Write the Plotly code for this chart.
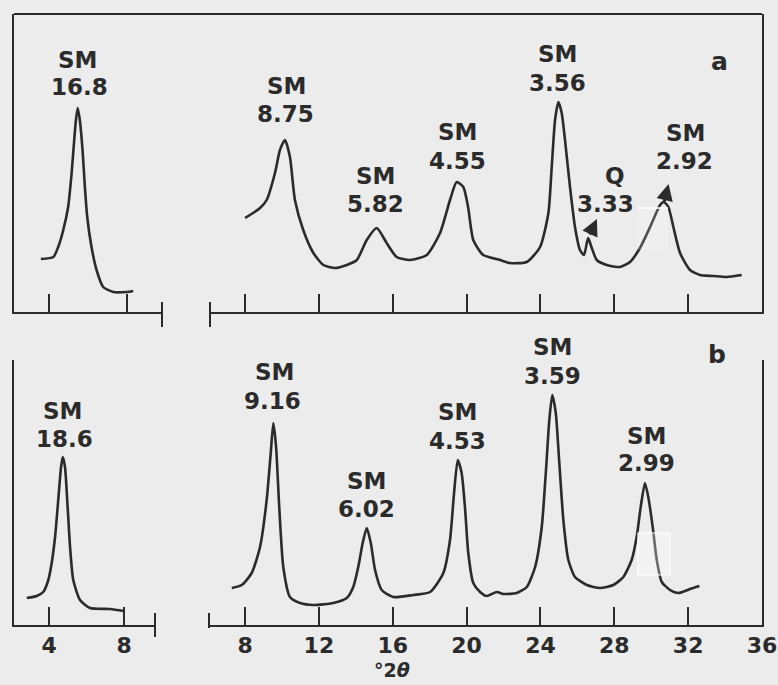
import plotly.graph_objects as go

# ---------------- data ----------------
# panel a, low-angle window (deg 2theta, relative intensity)
a_left_x = [3.58, 4.22, 4.47, 4.73, 4.98, 5.16, 5.28, 5.38, 5.47, 5.58, 5.72, 5.84, 5.96, 6.18, 6.44, 6.78, 7.29, 7.98, 8.32]
a_left_y = [53, 55, 65, 82, 105, 139, 169, 192, 204, 192, 162, 125, 95, 65, 42, 25, 20, 20, 21]

# panel a, main window
a_right_x = [8.00, 8.81, 9.17, 9.62, 9.89, 10.16, 10.43, 10.70, 11.15, 11.70, 12.24, 12.87, 13.51, 14.05,
             14.59, 15.13, 15.67, 16.21, 16.93, 17.84, 18.56, 19.10, 19.46, 19.82, 20.08, 20.36, 20.90,
             21.81, 22.35, 23.26, 23.98, 24.43, 24.61, 24.79, 24.97, 25.15, 25.33, 25.60, 25.87, 26.14,
             26.36, 26.51, 26.59, 26.78, 27.05, 27.59, 28.31, 28.85, 29.39, 29.94, 30.48, 30.69, 30.93,
             31.20, 31.56, 32.10, 32.64, 33.36, 34.09, 34.90]
a_right_y = [94, 104, 112, 139, 162, 172, 155, 112, 82, 59, 47, 44, 47, 52,
             72, 84, 69, 55, 52, 57, 79, 112, 130, 125, 105, 72, 57,
             52, 49, 50, 65, 99, 145, 192, 210, 199, 172, 125, 85, 62,
             57, 69, 74, 64, 52, 47, 45, 50, 64, 85, 107, 110, 105,
             85, 59, 42, 37, 36, 35, 37]

# panel b, low-angle window
b_left_x = [2.81, 3.34, 3.69, 3.96, 4.14, 4.32, 4.49, 4.64, 4.73, 4.85, 4.99, 5.12, 5.29, 5.65, 6.18, 7.25, 7.99]
b_left_y = [27, 29, 33, 45, 62, 88, 125, 158, 168, 158, 118, 78, 45, 25, 17, 16, 14]

# panel b, main window
b_right_x = [7.28, 7.82, 8.36, 8.81, 9.17, 9.39, 9.53, 9.68, 9.85, 10.07, 10.43, 10.98, 11.70, 12.78,
             13.51, 13.86, 14.13, 14.37, 14.59, 14.81, 15.04, 15.40, 16.03, 17.11, 18.02, 18.74, 19.10,
             19.32, 19.52, 19.73, 19.91, 20.09, 20.36, 20.73, 21.09, 21.63, 21.99, 22.71, 23.26, 23.71,
             24.07, 24.30, 24.48, 24.64, 24.83, 25.01, 25.24, 25.51, 25.87, 26.51, 27.23, 27.95, 28.49,
             28.94, 29.21, 29.43, 29.66, 29.84, 30.08, 30.30, 30.57, 31.02, 31.47, 32.10, 32.61]
b_right_y = [37, 40, 52, 78, 125, 172, 202, 178, 118, 58, 28, 22, 20, 22,
             27, 38, 58, 82, 97, 82, 55, 35, 28, 30, 33, 52, 85,
             132, 165, 152, 118, 72, 42, 33, 29, 33, 31, 32, 38, 58,
             98, 155, 205, 230, 212, 165, 105, 65, 48, 40, 37, 40, 48,
             65, 88, 118, 142, 128, 98, 65, 43, 35, 32, 36, 39]

# peak labels: mineral, d-spacing (A), label positions in (2theta, intensity)
a_names = ["SM", "SM", "SM", "SM", "SM", "Q", "SM"]
a_dvals = ["16.8", "8.75", "5.82", "4.55", "3.56", "3.33", "2.92"]
a_name_x = [5.48, 10.22, 15.09, 19.53, 24.92, 28.04, 31.88]
a_name_y = [252, 226, 136, 180, 258, 136, 179]
a_d_x = [5.58, 10.19, 15.04, 19.51, 24.92, 27.50, 31.78]
a_d_y = [225, 198, 108, 151, 229, 108, 151]

b_names = ["SM", "SM", "SM", "SM", "SM", "SM"]
b_dvals = ["18.6", "9.16", "6.02", "4.53", "3.59", "2.99"]
b_name_x = [4.69, 9.57, 14.58, 19.53, 24.65, 29.72]
b_name_y = [214, 253, 144, 213, 278, 189]
b_d_x = [4.80, 9.49, 14.58, 19.51, 24.65, 29.72]
b_d_y = [186, 224, 116, 184, 249, 162]

left_ticks = [4, 8]
right_ticks = [8, 12, 16, 20, 24, 28, 32, 36]
x_title = "°2<i>θ</i>"

# ---------------- styling ----------------
W, H = 778, 685
BG = "#ececec"
INK = "#2b2b2b"
FONT = "DejaVu Sans"


def px(x):
    return x / W


def py(y):
    return 1 - y / H


TOP_DOM = [py(312), py(14)]
BOT_DOM = [py(625), py(360)]
TOP_RANGE = [0, 298]
BOT_RANGE = [0, 265]


def y_to_paper(v, dom, rng):
    return dom[0] + (v - rng[0]) / (rng[1] - rng[0]) * (dom[1] - dom[0])


fig = go.Figure()
line_style = dict(color=INK, width=2.6, shape="spline", smoothing=0.6)
fig.add_trace(go.Scatter(x=a_left_x, y=a_left_y, mode="lines", line=line_style, xaxis="x", yaxis="y", hoverinfo="skip"))
fig.add_trace(go.Scatter(x=a_right_x, y=a_right_y, mode="lines", line=line_style, xaxis="x2", yaxis="y2", hoverinfo="skip"))
fig.add_trace(go.Scatter(x=b_left_x, y=b_left_y, mode="lines", line=line_style, xaxis="x3", yaxis="y3", hoverinfo="skip"))
fig.add_trace(go.Scatter(x=b_right_x, y=b_right_y, mode="lines", line=line_style, xaxis="x4", yaxis="y4", hoverinfo="skip"))

common_x = dict(showline=True, linecolor=INK, linewidth=2, ticks="inside", ticklen=18, tickwidth=2,
                tickcolor=INK, showgrid=False, zeroline=False, fixedrange=True, automargin=False,
                tickfont=dict(family=FONT, size=22, color=INK, weight="bold"))
common_y = dict(showline=True, linecolor=INK, linewidth=2, ticks="", showticklabels=False,
                showgrid=False, zeroline=False, fixedrange=True, automargin=False)

fig.update_layout(
    width=W, height=H, autosize=False, margin=dict(l=0, r=0, t=0, b=0, pad=0),
    paper_bgcolor=BG, plot_bgcolor=BG, showlegend=False,
    xaxis=dict(common_x, domain=[px(14), px(162)], range=[2.2, 9.8], anchor="y",
               tickvals=left_ticks, showticklabels=False),
    yaxis=dict(common_y, domain=TOP_DOM, range=TOP_RANGE, anchor="x"),
    xaxis2=dict(common_x, domain=[px(210), px(762)], range=[6.1, 36.0], anchor="y2",
                tickvals=right_ticks, showticklabels=False),
    yaxis2=dict(common_y, domain=TOP_DOM, range=TOP_RANGE, anchor="x2", side="right"),
    xaxis3=dict(common_x, domain=[px(14), px(155)], range=[2.13, 9.65], anchor="y3",
                tickvals=left_ticks, ticklabelstandoff=0),
    yaxis3=dict(common_y, domain=BOT_DOM, range=BOT_RANGE, anchor="x3"),
    xaxis4=dict(common_x, domain=[px(210), px(762)], range=[6.1, 36.0], anchor="y4",
                tickvals=right_ticks, ticklabelstandoff=0),
    yaxis4=dict(common_y, domain=BOT_DOM, range=BOT_RANGE, anchor="x4", side="right"),
)

shapes = []
lw = dict(color=INK, width=2)
# top border of panel a
shapes.append(dict(type="line", xref="paper", yref="paper", x0=px(14), x1=px(762), y0=py(14), y1=py(14), line=lw))
# axis-break end ticks
for xx, y0, y1 in [(162, 302, 327), (210, 302, 327), (155, 613, 637), (209, 613, 628)]:
    shapes.append(dict(type="line", xref="paper", yref="paper", x0=px(xx), x1=px(xx), y0=py(y0), y1=py(y1), line=lw))
# scan retouch marks
shapes.append(dict(type="rect", xref="paper", yref="paper", x0=px(638), x1=px(668), y0=py(208), y1=py(250),
                   line=dict(width=0), fillcolor="rgba(255,255,255,0.18)", layer="above"))
shapes.append(dict(type="line", xref="paper", yref="paper", x0=px(638), x1=px(668), y0=py(208), y1=py(208),
                   line=dict(color="white", width=1.5), layer="above"))
shapes.append(dict(type="rect", xref="paper", yref="paper", x0=px(638), x1=px(670), y0=py(533), y1=py(575),
                   line=dict(color="white", width=1.2), fillcolor="rgba(255,255,255,0.3)", layer="above"))
fig.update_layout(shapes=shapes)

ann = []
lab_font = dict(family=FONT, size=23, color=INK, weight="bold")


def add_labels(names, dvals, nx, ny, dx, dy, xr, dom, rng):
    for n, d, a, b, c, e in zip(names, dvals, nx, ny, dx, dy):
        ann.append(dict(x=a, y=y_to_paper(b, dom, rng), xref=xr, yref="paper", text=n, showarrow=False,
                        font=lab_font, xanchor="center", yanchor="middle"))
        ann.append(dict(x=c, y=y_to_paper(e, dom, rng), xref=xr, yref="paper", text=d, showarrow=False,
                        font=lab_font, xanchor="center", yanchor="middle"))


add_labels(a_names[:1], a_dvals[:1], a_name_x[:1], a_name_y[:1], a_d_x[:1], a_d_y[:1], "x", TOP_DOM, TOP_RANGE)
add_labels(a_names[1:], a_dvals[1:], a_name_x[1:], a_name_y[1:], a_d_x[1:], a_d_y[1:], "x2", TOP_DOM, TOP_RANGE)
add_labels(b_names[:1], b_dvals[:1], b_name_x[:1], b_name_y[:1], b_d_x[:1], b_d_y[:1], "x3", BOT_DOM, BOT_RANGE)
add_labels(b_names[1:], b_dvals[1:], b_name_x[1:], b_name_y[1:], b_d_x[1:], b_d_y[1:], "x4", BOT_DOM, BOT_RANGE)

# marker arrows on panel a (Q 3.33 and SM 2.92)
for hx, hy, tx, ty in [(27.06, 93, 26.63, 76), (30.94, 128, 30.69, 109)]:
    ann.append(dict(x=hx, y=hy, ax=tx, ay=ty, xref="x2", yref="y2", axref="x2", ayref="y2",
                    showarrow=True, arrowhead=2, arrowsize=1.1, arrowwidth=3, arrowcolor=INK, text=""))

ann.append(dict(x=px(730), y=py(45), xref="paper", yref="paper", text="a", showarrow=False,
                font=dict(family=FONT, size=25, color=INK, weight="bold")))
ann.append(dict(x=px(728), y=py(354), xref="paper", yref="paper", text="b", showarrow=False,
                font=dict(family=FONT, size=25, color=INK, weight="bold")))
ann.append(dict(x=px(392), y=py(670), xref="paper", yref="paper", text=x_title, showarrow=False,
                font=dict(family=FONT, size=19, color=INK, weight="bold"), yanchor="middle"))
fig.update_layout(annotations=ann)

fig.write_html(
    "out.html",
    config={"responsive": False, "displayModeBar": False},
    post_script="document.body.style.margin='0';document.body.style.overflow='hidden';"
                "document.documentElement.style.overflow='hidden';",
)
